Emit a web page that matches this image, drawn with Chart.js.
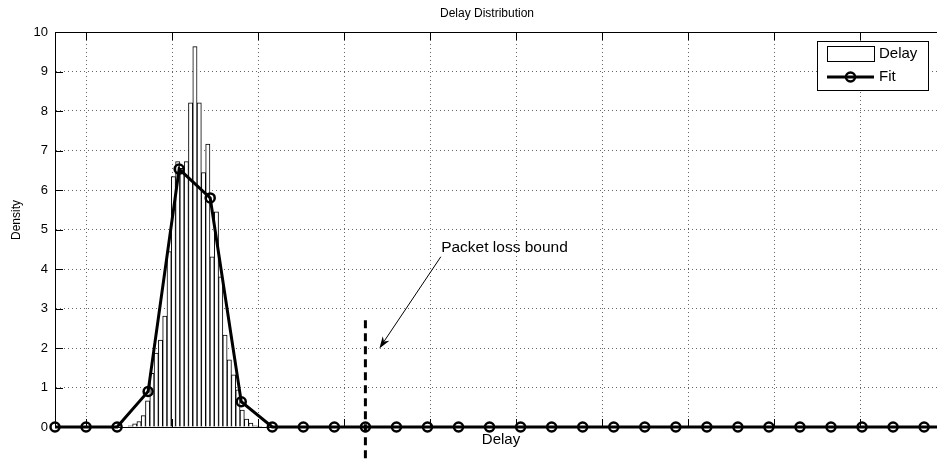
<!DOCTYPE html>
<html>
<head>
<meta charset="utf-8">
<script src="https://cdn.jsdelivr.net/npm/chart.js@4.4.1/dist/chart.umd.min.js"></script>
<style>
  html, body { margin: 0; padding: 0; background: #fff; overflow: hidden; }
  #wrap { width: 937px; height: 460px; }
</style>
</head>
<body>
<div id="wrap"><canvas id="chart" width="937" height="460"></canvas></div>
<script>
// x is in fit-bin units (one unit = spacing of the Fit markers)
const histCenters = [2.430, 2.569, 2.707, 2.846, 2.984, 3.123, 3.261, 3.400, 3.538, 3.677,
                     3.815, 3.954, 4.092, 4.231, 4.369, 4.508, 4.646, 4.785, 4.923, 5.062,
                     5.200, 5.339, 5.477, 5.616, 5.754, 5.893, 6.031, 6.170, 6.308, 6.447, 6.585];
const histDensity = [0.03, 0.08, 0.14, 0.29, 0.66, 1.36, 1.87, 2.20, 2.81, 4.44,
                     6.34, 6.72, 6.55, 6.72, 8.21, 9.63, 8.21, 6.44, 7.16, 4.31,
                     5.45, 3.80, 2.33, 1.70, 1.32, 0.94, 0.43, 0.20, 0.10, 0.03, 0.02];
const fitX = [0, 1, 2, 3, 4, 5, 6, 7, 8, 9, 10, 11, 12, 13, 14,
              15, 16, 17, 18, 19, 20, 21, 22, 23, 24, 25, 26, 27, 28, 29];
const fitY = [0, 0, 0, 0.90, 6.53, 5.80, 0.64, 0, 0, 0, 0, 0, 0, 0, 0,
              0, 0, 0, 0, 0, 0, 0, 0, 0, 0, 0, 0, 0, 0, 0];
const boundX = [10, 10];
const boundY = [2.7, -1.0];
const xGridTicks = [1.000, 3.772, 6.544, 9.316, 12.088, 14.860, 17.632, 20.404, 23.176, 25.948];
const yTicks = [0, 1, 2, 3, 4, 5, 6, 7, 8, 9, 10];

const FONT = '"Liberation Sans", Arial, Helvetica, sans-serif';

const decor = {
    id: 'decor',
    afterDraw(chart) {
        const { ctx, chartArea: a, scales: { x, y } } = chart;
        ctx.save();

        // frame top + tick marks
        ctx.strokeStyle = '#000';
        ctx.lineWidth = 1;
        ctx.beginPath();
        ctx.moveTo(a.left, Math.round(a.top) + 0.5);
        ctx.lineTo(a.right, Math.round(a.top) + 0.5);
        for (const v of xGridTicks) {
            const px = Math.round(x.getPixelForValue(v)) + 0.5;
            ctx.moveTo(px, a.top);
            ctx.lineTo(px, a.top + 8);
            ctx.moveTo(px, a.bottom);
            ctx.lineTo(px, a.bottom - 8);
        }
        for (const v of yTicks) {
            const py = Math.round(y.getPixelForValue(v)) + 0.5;
            ctx.moveTo(a.left, py);
            ctx.lineTo(a.left + 8, py);
        }
        ctx.stroke();

        // title and axis labels
        ctx.fillStyle = '#000';
        ctx.textBaseline = 'middle';
        ctx.textAlign = 'center';
        ctx.font = '12px ' + FONT;
        ctx.fillText('Delay Distribution', 487, 14);
        ctx.font = '15px ' + FONT;
        ctx.fillText('Delay', 501, 440);
        ctx.save();
        ctx.translate(17, 220);
        ctx.rotate(-Math.PI / 2);
        ctx.font = '12px ' + FONT;
        ctx.fillText('Density', 0, 0);
        ctx.restore();

        // annotation text + arrow
        ctx.textAlign = 'left';
        ctx.font = '15.5px ' + FONT;
        ctx.fillText('Packet loss bound', x.getPixelForValue(12.44), y.getPixelForValue(4.55));
        const sx = x.getPixelForValue(12.43), sy = y.getPixelForValue(4.31);
        const tx = x.getPixelForValue(10.45), ty = y.getPixelForValue(1.99);
        const len = Math.hypot(tx - sx, ty - sy);
        const dx = (tx - sx) / len, dy = (ty - sy) / len;
        const nx = -dy, ny = dx;
        const L = 12, W = 4;
        ctx.beginPath();
        ctx.moveTo(sx, sy);
        ctx.lineTo(tx - dx * L * 0.7, ty - dy * L * 0.7);
        ctx.stroke();
        ctx.beginPath();
        ctx.moveTo(tx, ty);
        ctx.lineTo(tx - dx * L + nx * W, ty - dy * L + ny * W);
        ctx.lineTo(tx - dx * L * 0.7, ty - dy * L * 0.7);
        ctx.lineTo(tx - dx * L - nx * W, ty - dy * L - ny * W);
        ctx.closePath();
        ctx.fill();

        // legend box
        const lx = 817, ly = 41, lw = 111, lh = 49;
        ctx.fillStyle = '#fff';
        ctx.fillRect(lx, ly, lw, lh);
        ctx.strokeRect(lx + 0.5, ly + 0.5, lw, lh);
        const ds = chart.data.datasets;
        ctx.strokeRect(827.5, 46.5, 47, 15);
        ctx.fillStyle = '#000';
        ctx.font = '15px ' + FONT;
        ctx.fillText(ds[0].label, 879, 54);
        ctx.lineWidth = 3;
        ctx.beginPath();
        ctx.moveTo(827, 77);
        ctx.lineTo(874, 77);
        ctx.stroke();
        ctx.lineWidth = 2.5;
        ctx.beginPath();
        ctx.arc(850.5, 77, 4.5, 0, Math.PI * 2);
        ctx.stroke();
        ctx.fillText(ds[1].label, 879, 77);

        ctx.restore();
    }
};

const ctx = document.getElementById('chart').getContext('2d');
new Chart(ctx, {
    type: 'line',
    data: {
        datasets: [{
            type: 'bar',
            label: 'Delay',
            data: histCenters.map((v, i) => ({ x: v, y: histDensity[i] })),
            backgroundColor: '#fff',
            borderColor: '#000',
            borderWidth: 1,
            barPercentage: 1,
            categoryPercentage: 1,
            order: 3
        }, {
            label: 'Fit',
            data: fitX.map((v, i) => ({ x: v, y: fitY[i] })),
            borderColor: '#000',
            borderWidth: 3,
            pointRadius: 4.5,
            pointBorderWidth: 2.5,
            pointBackgroundColor: 'rgba(0,0,0,0)',
            pointBorderColor: '#000',
            tension: 0,
            clip: false,
            order: 2
        }, {
            label: 'bound',
            data: boundX.map((v, i) => ({ x: v, y: boundY[i] })),
            borderColor: '#000',
            borderWidth: 3,
            borderDash: [8, 5],
            pointRadius: 0,
            clip: false,
            order: 1
        }]
    },
    options: {
        responsive: false,
        animation: false,
        devicePixelRatio: 1,
        layout: { autoPadding: false, padding: { top: 32, left: 0, right: 0, bottom: 0 } },
        plugins: {
            legend: { display: false },
            title: { display: false },
            tooltip: { enabled: false }
        },
        scales: {
            x: {
                type: 'linear',
                min: 0,
                max: 28.415,
                offset: false,
                afterBuildTicks: (scale) => { scale.ticks = xGridTicks.map(v => ({ value: v })); },
                afterFit: (scale) => { scale.height = 33; },
                ticks: { display: false },
                grid: { color: '#666', lineWidth: 1, drawTicks: false, offset: false },
                border: { display: true, color: '#000', width: 1, dash: [1, 3] }
            },
            y: {
                min: 0,
                max: 10,
                afterBuildTicks: (scale) => { scale.ticks = yTicks.map(v => ({ value: v })); },
                afterFit: (scale) => { scale.width = 55; },
                ticks: { color: '#000', padding: 7, font: { family: FONT, size: 13 } },
                grid: { color: '#666', lineWidth: 1, drawTicks: false },
                border: { display: true, color: '#000', width: 1, dash: [1, 3] }
            }
        }
    },
    plugins: [decor]
});
</script>
</body>
</html>
